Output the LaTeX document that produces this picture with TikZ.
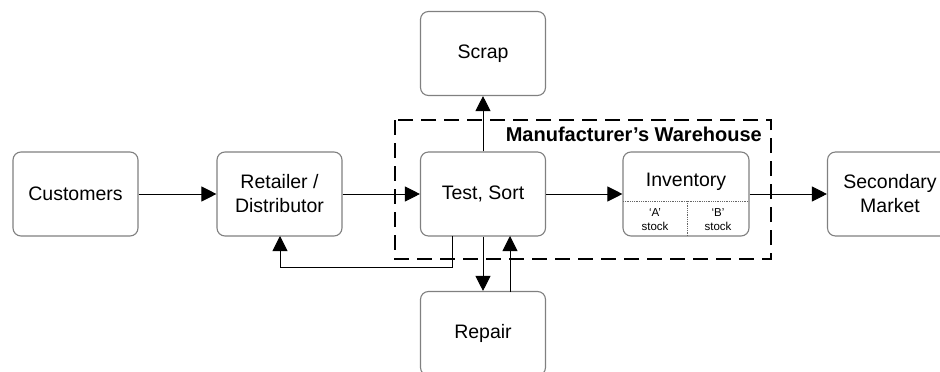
\documentclass[tikz,border=0pt]{standalone}
\usepackage{fontspec}
\setmainfont{Liberation Sans}
\usetikzlibrary{arrows.meta}
\begin{document}
\begin{tikzpicture}[x=1pt,y=-1pt,
  stagebox/.style={draw=black!50, line width=1.1pt, rounded corners=8pt,
    minimum width=125pt, minimum height=84pt, inner sep=0pt, align=center,
    font=\fontsize{19.5}{24}\selectfont},
  flow/.style={draw=black, line width=0.9pt, -{Triangle[length=15pt,width=15pt]}},
  cell/.style={font=\fontsize{11.5}{14.5}\selectfont, align=center, inner sep=0pt},
  zone/.style={draw=black, line width=2.6pt, dash pattern=on 15pt off 8pt}]
\useasboundingbox (0,0) rectangle (940,372);
\clip (0,0) rectangle (940,372);

% warehouse boundary
\draw[zone] (395,120) rectangle (771,259);
\node[anchor=east, font=\bfseries\fontsize{20}{24}\selectfont, inner sep=0pt]
  (wh) at (762,134) {Manufacturer’s Warehouse};

% stages
\node[stagebox] (cust) at (75.5,194) {Customers};
\node[stagebox] (ret)  at (279.5,194) {Retailer /\\Distributor};
\node[stagebox] (ts)   at (483,194) {Test, Sort};
\node[stagebox] (scrap) at (483,53.5) {Scrap};
\node[stagebox] (rep)  at (483,333.5) {Repair};
\node[stagebox] (sec)  at (890,194) {Secondary\\Market};
\node[stagebox, minimum width=126pt] (inv) at (686,194) {};
\node[font=\fontsize{19.5}{24}\selectfont, inner sep=0pt] (invt) at (686,182) {Inventory};

% stock split inside the inventory box
\coordinate (dl) at (623,201);
\coordinate (dr) at (749,201);
\coordinate (dt) at (687,201);
\coordinate (db) at (687,236);
\draw[black!60, line width=0.8pt, densely dotted] (dl) -- (dr);
\draw[black!60, line width=0.8pt, densely dotted] (dt) -- (db);
\node[cell] (sa) at (655,219.5) {‘A’\\stock};
\node[cell] (sb) at (718,219.5) {‘B’\\stock};

% main flow
\draw[flow] (cust.east) -- (ret.west);
\draw[flow] (ret.east) -- (ts.west);
\draw[flow] (ts.east) -- (inv.west);
\draw[flow] (inv.east) -- (sec.west);
\draw[flow] (ts.north) -- (scrap.south);

% returns back to the retailer
\coordinate (r1) at (452,236);
\coordinate (r2) at (452,267);
\coordinate (r3) at (280,267);
\coordinate (r4) at (280,236);
\draw[flow] (r1) -- (r2) -- (r3) -- (r4);

% repair loop
\draw[flow] (ts.south) -- (rep.north);
\coordinate (p1) at (510,292);
\coordinate (p2) at (510,236);
\draw[flow] (p1) -- (p2);
\end{tikzpicture}
\end{document}
